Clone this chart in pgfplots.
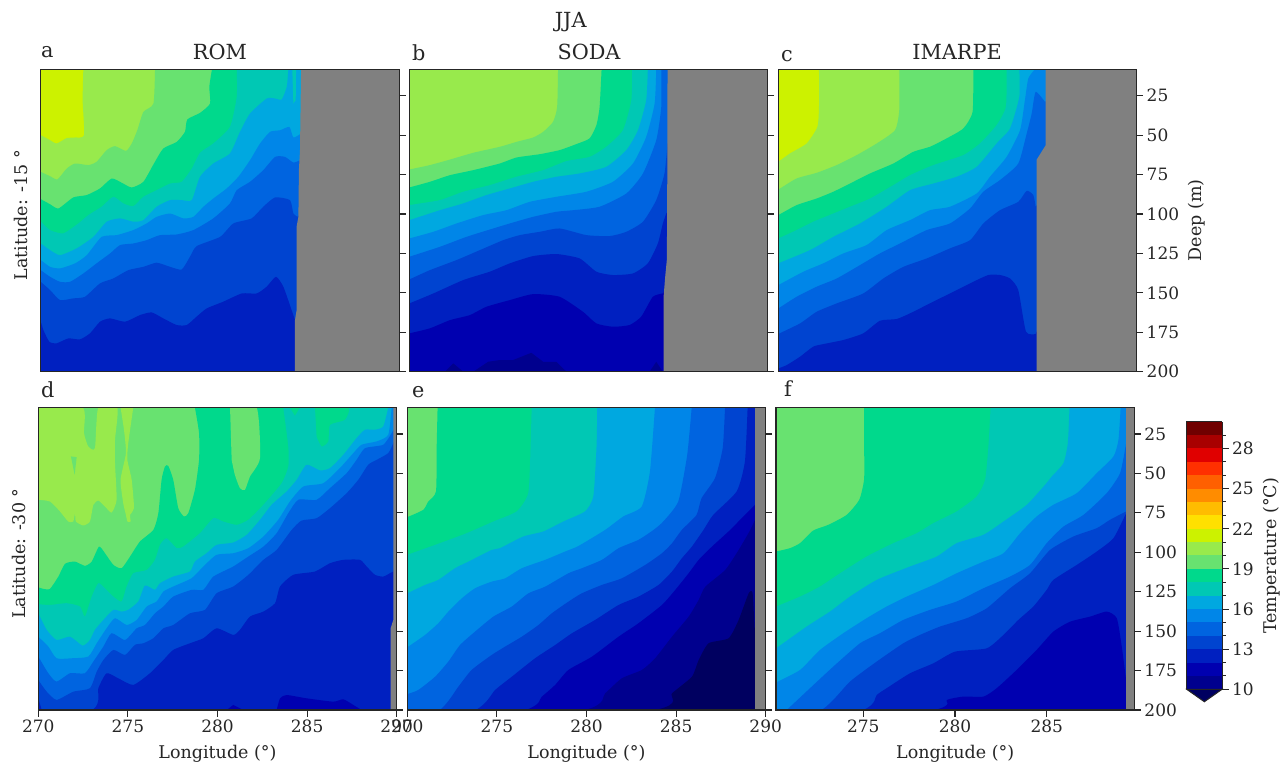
\documentclass[border=0pt]{standalone}
\usepackage{pgfplots}
\pgfplotsset{compat=1.18}
\usepackage{fontspec}
\setmainfont{DejaVu Serif}
\definecolor{c0}{HTML}{000060}
\definecolor{c1}{HTML}{00008E}
\definecolor{c2}{HTML}{0000B0}
\definecolor{c3}{HTML}{0020C0}
\definecolor{c4}{HTML}{0044D0}
\definecolor{c5}{HTML}{0064E0}
\definecolor{c6}{HTML}{0086E8}
\definecolor{c7}{HTML}{00A8E0}
\definecolor{c8}{HTML}{00C8B4}
\definecolor{c9}{HTML}{00D98C}
\definecolor{c10}{HTML}{68E270}
\definecolor{c11}{HTML}{98EA4C}
\definecolor{c12}{HTML}{CCF200}
\definecolor{c13}{HTML}{FFE000}
\definecolor{c14}{HTML}{FFBC00}
\definecolor{c15}{HTML}{FF8C00}
\definecolor{c16}{HTML}{FF6000}
\definecolor{c17}{HTML}{FF3000}
\definecolor{c18}{HTML}{E00000}
\definecolor{c19}{HTML}{A80000}
\definecolor{c20}{HTML}{700000}
\definecolor{land}{HTML}{808080}
\newcommand\bg[1]{\addplot[fill=#1,draw=none,forget plot] coordinates {(270,8.2)(290,8.2)(290,200)(270,200)} --cycle;}
\newcommand\band[2]{\addplot[fill=#1,draw=none,forget plot,smooth,tension=0.35] coordinates {#2 (268,230)(292,230)(292,-20)} --cycle;}
\newcommand\patchp[2]{\addplot[fill=#1,draw=none,forget plot] coordinates {#2} --cycle;}
\newcommand\spatch[2]{\addplot[fill=#1,draw=none,forget plot,smooth,tension=0.35] coordinates {#2} --cycle;}
\newcommand\cb[3]{\addplot[fill=#1,draw=none,forget plot] coordinates {(0,#2)(1,#2)(1,#3)(0,#3)} --cycle;}
\newcommand\tk{\fontsize{17}{20}\selectfont}
\newcommand\lb{\fontsize{17.5}{20}\selectfont}
\newcommand\ttl{\fontsize{20.8}{24}\selectfont}
\pgfplotsset{panel/.style={
  scale only axis, axis on top, anchor=south west,
  width=358.4pt, height=302.5pt,
  xmin=270, xmax=290, ymin=8.2, ymax=200, y dir=reverse,
  ytick={25,50,75,100,125,150,175,200}, ytick pos=right, xtick pos=bottom,
  xtick=\empty, yticklabels={},
  axis line style={line width=1.1pt, black!85},
  tick style={line width=1.1pt, black!85},
  major tick length=6.5pt,
  tick align=outside,
  ticklabel style={font=\tk, text=black!85},
  /pgf/number format/assume math mode=true,
  /pgf/number format/1000 sep={},
  every axis y label/.style={at={(axis description cs:-0.055,0.517)},rotate=90,anchor=center,font=\lb,text=black!85},
  every axis x label/.style={at={(axis description cs:0.5,-0.146)},anchor=center,font=\lb,text=black!85},
  clip=true,
}}
\begin{document}
\begin{tikzpicture}
\path[use as bounding box] (0,0) rectangle (1287pt,765pt);

% a
\begin{axis}[panel, at={(40.7pt,393.3pt)}, ylabel={Latitude: -15 °}]
\bg{c12}
\band{c11}{(272.38,8.2)(272.34,27.9)(272.42,50)(271.92,51.5)(271.45,51.9)(270.89,55.3)(270.52,53.2)(270,50)(269.4,47)}
\band{c10}{(276.38,8.2)(276.29,30)(275.73,35.3)(275.39,46.9)(275.08,55.3)(274.76,60)(274.15,57)(273.68,59.5)(273.12,66.9)(272.66,69)(271.92,68)(271.45,71.2)(270.93,78.1)(270.52,76)(270,73.3)(269.4,70)}
\band{c9}{(279.56,8.2)(279.41,19.4)(279.45,30)(278.89,35.9)(278.18,40.1)(278.05,47.9)(277.59,54.3)(276.84,58.5)(276.32,68)(275.73,79.6)(275.08,83.2)(274.52,80.2)(273.96,77.5)(273.31,83.8)(272.57,88)(271.82,89.5)(270.99,96.5)(270.52,93.8)(270,90.6)(269.4,87)}
\band{c8}{(280.94,8.2)(280.94,25.7)(280.56,44.8)(279.63,55.3)(278.89,61.2)(278.43,71.2)(277.87,79.6)(277.22,80.7)(276.47,84.9)(275.73,89.1)(275.17,95)(274.61,93.3)(274.05,89.1)(273.4,95.4)(272.66,100.7)(272.1,106)(271.26,112.3)(270.52,110.2)(270,104.9)(269.4,99)}
\band{c7}{(283.82,8.2)(283.73,19.4)(283.45,27.4)(283.08,26.8)(282.61,26.8)(281.68,36.3)(281.12,47.9)(280.56,61.6)(279.63,68)(278.89,76.4)(278.43,91.2)(277.87,91.2)(277.22,91.2)(276.47,95.4)(275.73,103.9)(275.17,104.9)(274.43,102.8)(273.68,104.9)(272.94,114.5)(272.01,121.8)(271.08,126.1)(270.52,122.9)(270,118.7)(269.4,114)}
\patchp{c8}{(284.04,8.2)(284.1,30)(284.23,27.9)(284.25,8.2)}
\band{c6}{(284.53,49)(284.1,51.5)(283.88,44.8)(283.36,46.9)(282.8,47.9)(282.24,55.3)(281.68,65.9)(281.03,76.4)(280.38,83.8)(279.63,90.2)(279.08,95.4)(278.52,101.8)(277.96,102.8)(277.22,99.7)(276.47,101.8)(275.91,106)(275.17,110.2)(274.24,113.4)(273.4,114.5)(272.57,126.1)(271.92,131.3)(271.08,134.5)(270.52,133.5)(270,129.2)(269.4,124)}
\band{c5}{(284.47,65.9)(284.1,67.4)(283.63,63.8)(283.08,63.8)(282.42,72.2)(281.68,79.6)(280.94,84.9)(280.56,93.3)(279.63,102.8)(278.52,110.2)(277.59,113)(276.66,113.4)(275.91,116.6)(275.17,118.7)(274.43,119.7)(273.87,125)(273.12,131.3)(272.38,137.7)(271.64,143)(271.08,143)(270.52,139.8)(270,135.6)(269.4,130)}
\band{c4}{(284.34,101.8)(284.1,99.7)(283.91,91.2)(283.08,89.5)(282.42,95.4)(281.77,102.8)(280.75,106)(280.01,114.5)(278.7,120.4)(278.33,127.1)(277.87,135.2)(277.22,133.5)(276.47,130.9)(275.73,133.5)(274.89,135.6)(274.05,140.9)(273.31,144)(272.47,152.5)(271.82,153.5)(271.08,154.6)(270.52,148.2)(270,143)(269.4,137)}
\band{c3}{(284.19,167.3)(284,160.9)(283.54,146.1)(283.13,139.8)(282.61,146.1)(282.05,150.4)(281.22,150.4)(280.19,155.6)(279.26,159.9)(278.7,165.1)(278.15,170.4)(277.59,170.4)(276.84,166.2)(276.19,162.4)(275.54,164.1)(274.71,168.3)(273.87,166.2)(273.31,168.3)(272.75,175.7)(272.19,179.5)(271.54,178.9)(270.89,182)(270.48,181)(270.15,173.6)(270,168.3)(269.6,160)}
\patchp{land}{(284.53,8.2)(284.47,59.5)(284.41,71.9)(284.38,101.8)(284.28,108)(284.28,161)(284.19,167.3)(284.19,200)(290,200)(290,8.2)}
\end{axis}

% b
\begin{axis}[panel, at={(409.3pt,393.3pt)}]
\bg{c11}
\band{c10}{(278.3,8.2)(278.25,32.1)(278.02,41.6)(277.47,47.9)(276.91,51.5)(275.98,54.3)(275.05,57.4)(273.57,61.2)(272.27,65.5)(271.15,69)(270,71.8)(269.4,73)}
\band{c9}{(280.73,8.2)(280.62,32.1)(280.44,43.7)(280.06,52.1)(279.32,55.7)(278.39,59.5)(277.28,62.1)(275.98,64.2)(275.05,68)(273.57,72.2)(272.27,75.4)(271.15,79.6)(270,83.2)(269.4,85)}
\band{c8}{(282.44,8.2)(282.39,27.9)(281.92,46.9)(280.99,57.4)(280.06,63.8)(278.76,66.5)(277.47,72.2)(275.98,76.4)(274.49,81.7)(273.01,85.9)(271.71,91.2)(270,94.4)(269.4,96)}
\band{c7}{(283.31,8.2)(283.22,27.9)(282.76,46.9)(282.11,59.5)(280.99,70.1)(279.51,74.3)(278.21,76.4)(276.91,79.6)(275.61,83.8)(274.31,88)(273.01,93.3)(271.71,97.6)(270,103.9)(269.4,106)}
\band{c6}{(283.78,8.2)(283.69,30)(283.22,51.1)(282.48,68)(281.36,79.6)(279.88,85.9)(278.21,89.1)(276.72,92.3)(275.42,97.6)(274.12,100.7)(272.64,106)(271.34,111.3)(270,115.5)(269.4,117)}
\band{c5}{(284.06,8.2)(284.06,32.1)(283.78,53.2)(283.04,74.3)(282.11,87)(280.62,95.4)(279.14,97.6)(278.21,98.6)(276.91,101.8)(275.61,106)(274.68,109.2)(273.19,114.5)(271.71,120.8)(270,127.1)(269.4,129)}
\band{c4}{(284.41,55.3)(284.24,74.3)(283.78,91.2)(283.04,104.9)(282.11,111.3)(281.18,114)(279.88,113.4)(278.39,109.2)(277.28,111.3)(276.17,113.4)(275.24,116.6)(273.94,122.9)(272.64,129.2)(271.15,135.6)(270,141.5)(269.4,144)}
\band{c3}{(284.34,99.7)(284.15,106)(283.87,118.7)(283.31,131.3)(282.48,137.7)(281.36,138.7)(280.44,136.6)(279.51,128.2)(278.21,125.4)(276.91,126.7)(275.61,131.3)(274.49,136.6)(273.01,141.9)(271.34,150.4)(270,156.7)(269.4,159)}
\band{c2}{(284.15,150.4)(283.59,152.5)(282.94,165.1)(282.29,170.4)(281.36,171.5)(280.44,169.4)(279.69,162)(278.39,152.5)(276.91,150.8)(275.61,154.6)(274.31,158.8)(273.38,164.1)(272.27,167.3)(271.15,172.5)(270,175.7)(269.4,177)}
\patchp{c1}{(271.99,200)(272.45,194.7)(273.01,200)}
\patchp{c1}{(273.57,200)(274.4,193.7)(275.05,192.6)(275.79,192.6)(276.81,188)(277.47,193.7)(278.21,193.7)(278.77,200)}
\patchp{c1}{(283.41,200)(283.78,193.7)(284.15,200)}
\patchp{land}{(284.41,8.2)(284.39,99.7)(284.37,129.2)(284.28,139.8)(284.19,152.5)(284.19,200)(290,200)(290,8.2)}
\end{axis}

% c
\begin{axis}[panel, at={(778.3pt,393.3pt)}, yticklabels={25,50,75,100,125,150,175,200},
  every axis y label/.style={at={(axis description cs:1.167,0.5)},rotate=90,anchor=center,font=\lb,text=black!85}, ylabel={Deep (m)}]
\bg{c12}
\band{c11}{(272.27,8.2)(272.27,32.1)(272.18,44.8)(271.58,55.3)(270.65,61.6)(270,66.9)(269.4,71)}
\band{c10}{(276.75,8.2)(276.75,34.2)(276.51,46.9)(275.49,55.3)(274.37,62.7)(273.26,69)(272.14,73.9)(271.02,77.5)(270,84.5)(269.4,88)}
\band{c9}{(280.88,8.2)(280.84,35.3)(280.32,45.8)(279.39,52.1)(278.46,57.4)(277.53,60.6)(276.42,68)(275.12,74.3)(274,80.7)(273.07,85.9)(272.14,90.2)(271.02,94.4)(270,100.7)(269.4,104)}
\band{c8}{(282.74,8.2)(282.7,32.1)(282.18,43.7)(281.25,55.3)(280.32,62.7)(278.65,69)(277.35,75.4)(276.42,81.7)(275.12,90.2)(274,95.4)(273.07,99.7)(271.95,104.9)(271.02,110.2)(270,115.5)(269.4,118)}
\band{c7}{(283.45,8.2)(283.45,25.7)(282.93,45.8)(282.18,55.3)(281.07,70.1)(279.95,76.4)(278.65,80.7)(277.35,84.9)(276.05,95.4)(274.56,106)(273.07,114.5)(271.77,122.9)(270,131.3)(269.4,134)}
\band{c6}{(284.32,8.2)(283.95,14.1)(283.76,27.9)(283.49,46.9)(282.74,63.8)(281.81,76.4)(281.07,87)(279.58,95.4)(278.46,97.6)(277.35,103.9)(276.05,110.2)(274.93,119.7)(273.63,125)(272.51,131.3)(271.4,136.6)(270,145.1)(269.4,149)}
\band{c5}{(284.88,28.9)(284.36,22.6)(284.14,36.3)(283.86,49)(283.39,68)(282.37,78.5)(281.44,85.9)(280.7,96.5)(279.58,106)(278.28,110.2)(276.79,118.7)(275.67,125)(274.56,132.4)(273.26,140.9)(272.14,146.1)(271.02,152.5)(270,159.9)(269.4,164)}
\band{c4}{(284.36,95.4)(284.23,88)(283.86,85.3)(283.39,92.3)(282.37,97.6)(281.44,106)(280.7,116.6)(279.58,121.8)(278.28,128.2)(276.98,133.5)(275.86,140.9)(274.74,150.4)(273.26,156.7)(272.14,162)(271.21,169.4)(270,176.1)(269.4,180)}
\band{c3}{(284.36,176.1)(283.82,174.6)(283.39,148.2)(282.93,140.9)(282.37,138.7)(281.72,138.7)(280.88,143)(279.77,149.3)(278.65,155.6)(277.35,163)(276.6,166.6)(275.67,167.7)(274.74,175.7)(273.63,179.9)(272.51,182.5)(271.95,184.1)(271.21,190.5)(270.47,195.8)(270,197.9)(269.4,200)}
\patchp{land}{(284.92,8.2)(284.92,56.4)(284.42,65.5)(284.42,200)(290,200)(290,8.2)}
\end{axis}

% d
\begin{axis}[panel, at={(38.3pt,55pt)}, xtick={270,275,280,285,290}, xlabel={Longitude (°)}, ylabel={Latitude: -30 °}]
\bg{c10}
\spatch{c11}{(270,8.2)(272.47,8.2)(272.55,24.4)(272.79,32.9)(273.16,34)(273.35,8.2)(274.41,8.2)(274.28,28.7)(274.28,43.5)(274.37,66.7)(274.09,74.8)(273.72,71)(273.35,67.2)(273.07,70)(272.88,80.5)(272.51,83)(272.1,80.5)(272.05,75.2)(271.95,80.5)(271.67,80.5)(271.21,74.1)(270.65,67.8)(270,66.7)}
\spatch{c11}{(274.59,8.2)(274.78,22.3)(274.89,37.1)(274.59,54)(274.74,68.9)(274.89,76.3)(274.97,80.5)(275.15,80.5)(275.12,76.3)(275.34,72)(275.21,54)(274.97,41.4)(275.02,30.8)(275.3,8.2)}
\patchp{c10}{(271.82,39.2)(272.14,39.7)(272.03,50.9)}
\band{c9}{(278.74,8.2)(278.97,24.4)(278.97,41.4)(278.74,60.4)(278.37,75.2)(278.13,77.3)(277.81,72)(277.53,54)(277.25,45.2)(277.07,45.6)(276.88,54)(276.7,75.2)(276.42,85.8)(275.67,93.2)(275.12,102.7)(274.65,110.1)(274.19,108)(273.72,100.6)(273.39,96.4)(272.98,105.9)(272.6,108.6)(272.05,105.9)(271.49,107.3)(271.12,115.4)(270.65,123.2)(270.28,123.2)(270,122.2)(269.4,120)}
\spatch{c10}{(280.7,8.2)(282.18,8.2)(282.37,40.3)(281.81,52)(281.53,60.4)(281.25,59.3)(280.97,50.9)(280.79,41.4)}
\band{c8}{(283.67,8.2)(283.95,32.9)(283.95,45.6)(283.58,56.2)(282.56,69.9)(281.72,79.4)(281.07,82.6)(280.32,80.5)(279.77,78.4)(279.02,87.9)(278.09,96.4)(277.72,97.4)(277.16,91.1)(276.79,95.3)(276.51,104.8)(276.05,111.2)(275.3,113.3)(274.93,121.7)(274.65,131.2)(274.19,128.1)(273.72,122.8)(273.35,119.6)(272.98,128.1)(272.6,140.8)(272.33,134.4)(271.58,132.3)(270.65,133.4)(270,132.9)(269.4,132)}
\spatch{c9}{(285.44,8.2)(287.3,8.2)(287.11,16)(286.28,19.2)(286.18,29.7)(285.81,32.9)(285.53,26.6)}
\patchp{c9}{(284.04,8.2)(284.6,8.2)(284.32,13.4)}
\band{c7}{(289.53,8.2)(289.25,20.2)(288.79,22.3)(288.23,22.3)(287.76,27.6)(287.02,38.2)(286.28,46.6)(285.72,48.1)(284.97,44.5)(284.42,54)(283.86,61.4)(283.02,69.9)(282.37,79.4)(281.63,88.9)(280.88,93.8)(279.95,95.3)(279.39,100.6)(278.74,105.9)(278.46,112.2)(277.53,115.4)(276.79,119.6)(276.51,123.8)(275.95,121.1)(275.58,131.2)(275.02,136.5)(274.65,137.6)(274.19,136.5)(273.63,142.9)(273.16,149.2)(272.88,155.6)(272.47,159.2)(271.77,153.5)(271.02,155.6)(270.47,149.2)(270,138.7)(269.6,130)}
\band{c6}{(289.72,8.2)(289.53,25.5)(288.88,29.7)(288.04,31.8)(287.58,37.1)(286.83,46.6)(285.9,56.2)(284.79,58.3)(284.04,67.8)(283.39,79.4)(282.56,90)(281.72,97.4)(280.88,100.6)(279.95,101.6)(279.21,109)(278.56,116.4)(277.53,121.7)(276.98,124.9)(276.6,131.2)(276.05,134.4)(275.49,142.9)(274.93,146.1)(274.28,141.8)(273.81,148.2)(273.26,157.7)(272.79,166.1)(271.86,167.2)(271.02,167.2)(270.56,159.8)(270,153.5)(269.4,147)}
\band{c5}{(289.72,24.4)(289.25,31.8)(288.23,34)(287.76,41.4)(287.21,49.8)(286.28,59.3)(285.53,66.7)(284.51,66.7)(283.95,75.2)(283.3,87.9)(282.56,96.4)(281.72,102.7)(280.88,109)(279.77,115.4)(279.21,123.8)(278.56,123.8)(277.53,128.1)(276.98,134.4)(276.51,138.7)(275.95,146.1)(275.49,148.2)(274.84,155.6)(274.09,151.3)(273.63,159.8)(273.07,169.3)(272.6,176.7)(271.77,176.7)(271.02,182)(270.56,176.7)(270,166.1)(269.6,158)}
\band{c4}{(289.81,30.8)(289.53,37.1)(288.88,41.4)(288.41,44.5)(287.86,54)(287.21,62.5)(286.28,72)(285.53,78.4)(284.69,79.9)(284.14,85.8)(283.3,98.5)(282.56,104.8)(281.72,114.3)(280.88,121.7)(279.95,126)(279.3,136.5)(278.46,138.7)(277.53,146.1)(276.98,148.2)(276.42,154.5)(275.86,157.7)(275.39,158.7)(274.84,165.1)(274.19,161.9)(273.63,168.3)(273.26,175.7)(272.88,186.2)(271.95,188.4)(271.02,193.6)(270.47,188.4)(270,181)(269.6,174)}
\band{c3}{(289.81,112.2)(289.62,113.3)(289.25,115.4)(288.79,114.3)(288.32,109)(287.95,104.8)(287.02,104.8)(286.28,106.9)(285.44,112.2)(284.23,114.3)(283.49,121.7)(283.21,132.3)(282.56,137.6)(281.81,140.8)(281.25,149.2)(280.88,152.4)(279.95,148.2)(279.21,154.5)(278.46,157.7)(277.53,161.9)(276.98,168.3)(276.23,176.7)(275.3,184.1)(274.46,179.9)(273.81,176.7)(273.35,186.2)(273.03,200)}
\spatch{c2}{(283.3,200)(283.49,192.6)(283.86,190.5)(284.97,192.6)(286.46,194.7)(287.02,193.2)(287.58,196.8)(288.04,200)}
\patchp{c2}{(280.51,200)(280.88,196.8)(281.44,200)}
\patchp{c3}{(270,192.6)(270.19,200)(270,200)}
\patchp{land}{(289.81,8.2)(289.81,142.9)(289.66,148.2)(289.66,200)(290,200)(290,8.2)}
\end{axis}

% e
\begin{axis}[panel, at={(407.3pt,55pt)}, xtick={270,275,280,285,290}, xlabel={Longitude (°)}]
\bg{c10}
\band{c9}{(271.69,8.2)(271.64,32.9)(271.6,61.4)(271.17,67.8)(270.89,73.1)(270,77.7)(269.4,80)}
\band{c8}{(276.94,8.2)(276.88,32.9)(276.75,62.5)(276.1,74.1)(274.8,80.5)(273.31,87.9)(271.82,94.2)(270,101.6)(269.4,104)}
\band{c7}{(280.6,8.2)(280.56,32.9)(280.38,64.6)(279.91,74.1)(278.7,80.5)(277.59,86.8)(276.47,90)(275.17,97.4)(274.71,98.5)(273.41,105.9)(272.66,110.1)(271.73,117.5)(270.99,120.7)(270,126)(269.4,129)}
\band{c6}{(283.82,8.2)(283.54,48.8)(283.08,71)(282.05,77.3)(281.04,85.8)(279.55,96)(278.81,99.5)(277.69,104.8)(276.39,110.1)(275.46,116.5)(274.71,118.6)(273.78,122.8)(273.04,129.2)(272.29,137.6)(271.73,145)(270.99,152.4)(270,160.2)(269.4,164)}
\band{c5}{(285.87,8.2)(285.62,38.2)(285.12,67.8)(284.28,80.5)(283.74,85.8)(282.9,92.1)(281.79,97.4)(280.86,104.8)(279.74,110.1)(278.99,113.3)(277.69,121.8)(276.76,126)(275.83,134.4)(274.8,140.8)(273.78,150.3)(272.94,158.8)(272.29,169.3)(271.55,178.9)(270.61,187.3)(270,189.9)(269.4,192)}
\band{c4}{(287.73,8.2)(287.6,34)(287.17,53)(286.42,65.7)(286.14,76.3)(285.32,85.8)(284.77,94.3)(284.21,100.6)(283.28,108)(281.97,116.5)(280.86,120.7)(279.74,126)(278.99,131.3)(278.06,138.7)(277.32,146.1)(276.39,153.5)(275.46,159.8)(274.71,165.1)(273.59,174.6)(272.85,185.2)(271.82,200)}
\band{c3}{(288.99,8.2)(288.84,42.4)(288.38,61.4)(287.07,76.3)(286.53,85.8)(285.88,96.4)(285.32,103.8)(284.77,112.2)(284.02,120.7)(282.9,128.1)(281.79,133.4)(280.48,142.9)(279.18,151.4)(278.25,158.8)(277.13,167.2)(275.83,178.9)(274.9,187.3)(273.82,200)}
\band{c2}{(289.4,69.9)(288.75,77.3)(288.02,85.8)(287,96.4)(286.26,104.8)(285.7,113.3)(284.95,123.9)(284.21,133.4)(282.9,145)(281.79,153.5)(280.3,166.2)(278.99,174.6)(278.25,184.1)(277.5,191.6)(276.61,200)}
\band{c1}{(289.4,79.4)(289.14,85.8)(288.49,98.5)(287.74,111.2)(286.63,121.8)(286.26,130.2)(285.7,140.8)(284.77,153.5)(283.83,167.2)(283.09,174.6)(281.97,179.9)(281.04,189.4)(279.92,200)}
\band{c0}{(289.38,149.2)(289.27,126)(289.05,126)(288.49,142.9)(287.93,154.5)(286.81,157.7)(286.26,168.3)(285.88,178.9)(284.77,189.4)(283.83,200)}
\patchp{land}{(289.42,8.2)(289.42,200)(290,200)(290,8.2)}
\end{axis}

% f
\begin{axis}[panel, at={(776pt,55pt)}, xmin=270.24, xmax=289.78, xtick={275,280,285}, xlabel={Longitude (°)},
  yticklabels={25,50,75,100,125,150,175,200}]
\bg{c10}
\band{c9}{(275.04,8.2)(275.05,37.1)(275.04,54)(274.78,66.7)(274.09,76.3)(273.09,82.6)(272.27,86.2)(271.55,94.2)(271,97.4)(270.24,99.5)(269.7,100.5)}
\band{c8}{(281.94,8.2)(281.82,32.9)(281.64,54)(281.18,64.6)(280.09,74.1)(278.82,81.5)(277.91,87.9)(276.64,94.2)(275.18,102.7)(273.73,113.3)(272.64,121.7)(271.55,128.1)(270.24,134.4)(269.7,137)}
\band{c7}{(286.24,8.2)(286.15,30.8)(285.91,43.5)(285.27,52)(284.91,57.2)(283.91,69.9)(282.64,80.5)(281.55,88.9)(280.09,94.2)(279,102.7)(277.55,109)(275.73,117.5)(274.27,128.1)(273.18,137.6)(271.91,147.1)(270.24,160.9)(269.7,165)}
\band{c6}{(289.03,8.2)(288.91,28.7)(288.64,39.2)(287.73,49.8)(286.64,62.5)(285.36,69.9)(284.45,77.3)(283.55,87.9)(282.64,100.6)(281.55,105.9)(280.09,113.3)(278.82,120.7)(277.36,128.1)(276.27,134.4)(275.18,141.8)(273.91,151.3)(272.64,161.9)(271.55,174.6)(270.24,182.6)(269.7,186)}
\band{c5}{(289.33,30.8)(289,49.8)(288.27,62.5)(287,76.3)(285.91,83.7)(285,94.2)(284.09,108)(283,115.4)(281.55,122.8)(280.09,131.2)(278.64,136.5)(277.18,142.9)(275.91,151.3)(274.82,157.7)(273.36,172.5)(272.09,186.2)(270.82,200)}
\band{c4}{(289.33,74.1)(288.45,79.4)(287.73,84.7)(286.45,90)(285.18,98.5)(284.09,113.3)(283,122.8)(281.73,135.5)(280.64,141.8)(279.18,147.1)(278.09,152.4)(277.18,157.7)(275.73,169.3)(274.27,182)(272.73,200)}
\band{c3}{(289.33,75.2)(288.64,91)(287.73,99.5)(286.64,108)(285.36,117.5)(285,123.8)(284.27,134.4)(283.45,142.9)(282.64,152.4)(281.73,160.9)(280,163)(278.82,170.4)(277.55,176.7)(276.27,186.2)(275.73,190.5)(275,200)}
\band{c2}{(289.33,181)(289.09,159.8)(288.82,141.8)(288.27,137.6)(287.36,140.8)(286.27,144)(285.36,150.3)(284.45,161.9)(283.36,174.6)(282.27,186.2)(281.55,191.5)(280.45,191.5)(279.55,193.6)(278.91,200)}
\patchp{land}{(289.33,8.2)(289.33,200)(290,200)(290,8.2)}
\end{axis}

% colour bar
\begin{axis}[scale only axis, anchor=south west, at={(1186.7pt,75.7pt)}, width=35.3pt, height=267.6pt,
  xmin=0, xmax=1, ymin=10, ymax=30, clip=false, axis on top,
  axis x line=none, axis y line*=right,
  ytick={10,13,16,19,22,25,28}, minor ytick={11,12,14,15,17,18,20,21,23,24,26,27,29},
  tick align=outside, major tick length=6.5pt, minor tick length=3.5pt,
  tick style={line width=1pt, black!85}, axis line style={line width=1pt, black!85},
  ticklabel style={font=\tk, text=black!85},
  /pgf/number format/assume math mode=true]
\cb{c1}{10}{11}\cb{c2}{11}{12}\cb{c3}{12}{13}\cb{c4}{13}{14}\cb{c5}{14}{15}
\cb{c6}{15}{16}\cb{c7}{16}{17}\cb{c8}{17}{18}\cb{c9}{18}{19}\cb{c10}{19}{20}
\cb{c11}{20}{21}\cb{c12}{21}{22}\cb{c13}{22}{23}\cb{c14}{23}{24}\cb{c15}{24}{25}
\cb{c16}{25}{26}\cb{c17}{26}{27}\cb{c18}{27}{28}\cb{c19}{28}{29}\cb{c20}{29}{30}
\addplot[fill=c0,draw=black!85,line width=1pt,forget plot] coordinates {(0,10)(0.5,9.07)(1,10)} --cycle;
\addplot[draw=black!85,line width=1pt,forget plot] coordinates {(0,10)(0,30)(1,30)};
\end{axis}

% titles and letters
\node[font=\ttl,text=black!85,anchor=center] at (570.7pt,743pt) {JJA};
\node[font=\ttl,text=black!85,anchor=center] at (220pt,713pt) {ROM};
\node[font=\ttl,text=black!85,anchor=center] at (589pt,713pt) {SODA};
\node[font=\ttl,text=black!85,anchor=center] at (957pt,713pt) {IMARPE};
\node[font=\ttl,text=black!85,anchor=base west,inner sep=0pt] at (41pt,707pt) {a};
\node[font=\ttl,text=black!85,anchor=base west,inner sep=0pt] at (412pt,704pt) {b};
\node[font=\ttl,text=black!85,anchor=base west,inner sep=0pt] at (781pt,703pt) {c};
\node[font=\ttl,text=black!85,anchor=base west,inner sep=0pt] at (41pt,367pt) {d};
\node[font=\ttl,text=black!85,anchor=base west,inner sep=0pt] at (412pt,367pt) {e};
\node[font=\ttl,text=black!85,anchor=base west,inner sep=0pt] at (784pt,368pt) {f};
\node[font=\lb,text=black!85,rotate=90,anchor=center] at (1272pt,209pt) {Temperature (°C)};
\end{tikzpicture}
\end{document}
